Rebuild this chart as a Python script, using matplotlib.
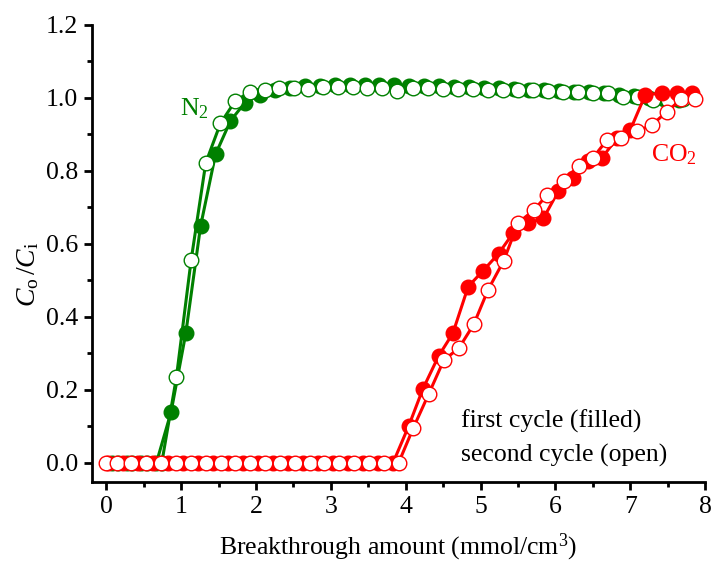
import matplotlib
matplotlib.use("Agg")
import matplotlib.pyplot as plt
from matplotlib.ticker import MultipleLocator

plt.rcParams['font.family'] = ['Liberation Serif', 'DejaVu Serif']
plt.rcParams['mathtext.fontset'] = 'custom'
plt.rcParams['mathtext.rm'] = 'Liberation Serif'
plt.rcParams['mathtext.it'] = 'Liberation Serif:italic'

# N2 breakthrough, first cycle (filled symbols)
n2_x1 = [0.08, 0.275, 0.47, 0.67, 0.867, 1.063, 1.26, 1.46, 1.66, 1.855, 2.05,
         2.25, 2.45, 2.65, 2.85, 3.05, 3.25, 3.45, 3.65, 3.85, 4.05, 4.25,
         4.45, 4.65, 4.85, 5.05, 5.25, 5.45, 5.65, 5.85, 6.05, 6.25, 6.45,
         6.65, 6.85, 7.05, 7.25, 7.45, 7.65]
n2_y1 = [0.0, 0.0, 0.0, 0.0, 0.14, 0.355, 0.648, 0.845, 0.937, 0.987, 1.008,
         1.02, 1.027, 1.032, 1.033, 1.034, 1.035, 1.035, 1.035, 1.036, 1.033,
         1.032, 1.031, 1.030, 1.029, 1.027, 1.026, 1.024, 1.022, 1.020, 1.019,
         1.017, 1.015, 1.012, 1.008, 1.004, 1.000, 0.997, 0.994]

# N2 breakthrough, second cycle (open symbols)
n2_x2 = [0.154, 0.35, 0.546, 0.742, 0.938, 1.134, 1.33, 1.526, 1.72, 1.92,
         2.115, 2.31, 2.51, 2.70, 2.90, 3.10, 3.29, 3.49, 3.69, 3.88, 4.10,
         4.30, 4.50, 4.70, 4.90, 5.10, 5.30, 5.50, 5.70, 5.90, 6.10, 6.30,
         6.50, 6.70, 6.90, 7.10, 7.30, 7.50, 7.70]
n2_y2 = [0.0, 0.0, 0.0, 0.0, 0.235, 0.555, 0.822, 0.930, 0.990, 1.017, 1.022,
         1.028, 1.026, 1.025, 1.030, 1.030, 1.029, 1.027, 1.026, 1.018, 1.026,
         1.026, 1.024, 1.025, 1.024, 1.020, 1.020, 1.020, 1.020, 1.019, 1.017,
         1.015, 1.014, 1.012, 1.003, 1.002, 0.994, 0.993, 0.996]

# CO2 breakthrough, first cycle (filled symbols)
co2_x1 = [0.03, 0.23, 0.43, 0.63, 0.83, 1.03, 1.23, 1.43, 1.63, 1.83, 2.03,
          2.23, 2.43, 2.63, 2.83, 3.03, 3.23, 3.43, 3.63, 3.83, 4.04, 4.23,
          4.44, 4.63, 4.835, 5.036, 5.24, 5.44, 5.64, 5.84, 6.04, 6.24, 6.44,
          6.62, 6.82, 7.00, 7.20, 7.43, 7.63, 7.83]
co2_y1 = [0.0, 0.0, 0.0, 0.0, 0.0, 0.0, 0.0, 0.0, 0.0, 0.0, 0.0, 0.0, 0.0,
          0.0, 0.0, 0.0, 0.0, 0.0, 0.0, 0.0, 0.101, 0.203, 0.293, 0.355,
          0.483, 0.527, 0.573, 0.631, 0.657, 0.670, 0.745, 0.780, 0.826,
          0.835, 0.889, 0.912, 1.008, 1.013, 1.013, 1.013]

# CO2 breakthrough, second cycle (open symbols)
co2_x2 = [0.0, 0.14, 0.335, 0.53, 0.73, 0.93, 1.13, 1.33, 1.53, 1.72, 1.92,
          2.12, 2.32, 2.52, 2.72, 2.91, 3.11, 3.31, 3.51, 3.71, 3.905, 4.10,
          4.31, 4.51, 4.71, 4.91, 5.10, 5.31, 5.50, 5.71, 5.89, 6.11, 6.31,
          6.50, 6.69, 6.88, 7.09, 7.29, 7.49, 7.68, 7.87]
co2_y2 = [0.0, 0.0, 0.0, 0.0, 0.0, 0.0, 0.0, 0.0, 0.0, 0.0, 0.0, 0.0, 0.0,
          0.0, 0.0, 0.0, 0.0, 0.0, 0.0, 0.0, 0.0, 0.095, 0.190, 0.282, 0.314,
          0.380, 0.474, 0.554, 0.657, 0.692, 0.734, 0.771, 0.814, 0.835,
          0.885, 0.889, 0.908, 0.926, 0.962, 0.996, 0.998]

GREEN = '#008000'
RED = '#ff0000'
FS = 18.5

fig = plt.figure(figsize=(7.13, 5.63), dpi=100)
ax = fig.add_axes([0.129, 0.144, 0.860, 0.812])

lw = 2.2
ms = 10.5
ax.plot(n2_x1, n2_y1, '-o', color=GREEN, lw=lw, ms=ms, mfc=GREEN, mec=GREEN,
        zorder=2, clip_on=False)
ax.plot(n2_x2, n2_y2, '-o', color=GREEN, lw=lw, ms=ms, mfc='white', mec=GREEN,
        mew=1.0, zorder=3, clip_on=False)
ax.plot(co2_x1, co2_y1, '-o', color=RED, lw=lw, ms=ms, mfc=RED, mec=RED,
        zorder=4, clip_on=False)
ax.plot(co2_x2, co2_y2, '-o', color=RED, lw=lw, ms=ms, mfc='white', mec=RED,
        mew=1.0, zorder=5, clip_on=False)

ax.set_xlim(-0.19, 8.0)
ax.set_ylim(-0.052, 1.2)
ax.xaxis.set_major_locator(MultipleLocator(1))
ax.xaxis.set_minor_locator(MultipleLocator(0.5))
ax.yaxis.set_major_locator(MultipleLocator(0.2))
ax.yaxis.set_minor_locator(MultipleLocator(0.1))
ax.yaxis.set_major_formatter(plt.FuncFormatter(lambda v, p: f"{v:.1f}"))

for side in ('top', 'right'):
    ax.spines[side].set_visible(False)
for side in ('left', 'bottom'):
    ax.spines[side].set_linewidth(2.0)

ax.tick_params(which='major', direction='out', length=6, width=2.0,
               labelsize=FS, pad=4)
ax.tick_params(which='minor', direction='out', length=3.5, width=2.0)

ax.set_xlabel('Breakthrough amount (mmol/cm$^3$)', fontsize=FS, labelpad=10)
ax.set_ylabel(r'$C_\mathrm{o}\,/C_\mathrm{i}$', fontsize=20, labelpad=2)
ax.yaxis.set_label_coords(-0.083, 0.455)

ax.text(0.99, 0.953, 'N$_2$', color=GREEN, fontsize=FS, ha='left',
        va='baseline')
ax.text(7.28, 0.825, 'CO$_2$', color=RED, fontsize=FS, ha='left',
        va='baseline')
ax.text(4.74, 0.096, 'first cycle (filled)', fontsize=FS, ha='left',
        va='baseline')
ax.text(4.74, 0.004, 'second cycle (open)', fontsize=FS, ha='left',
        va='baseline')

fig.savefig('out.png', dpi=100)
